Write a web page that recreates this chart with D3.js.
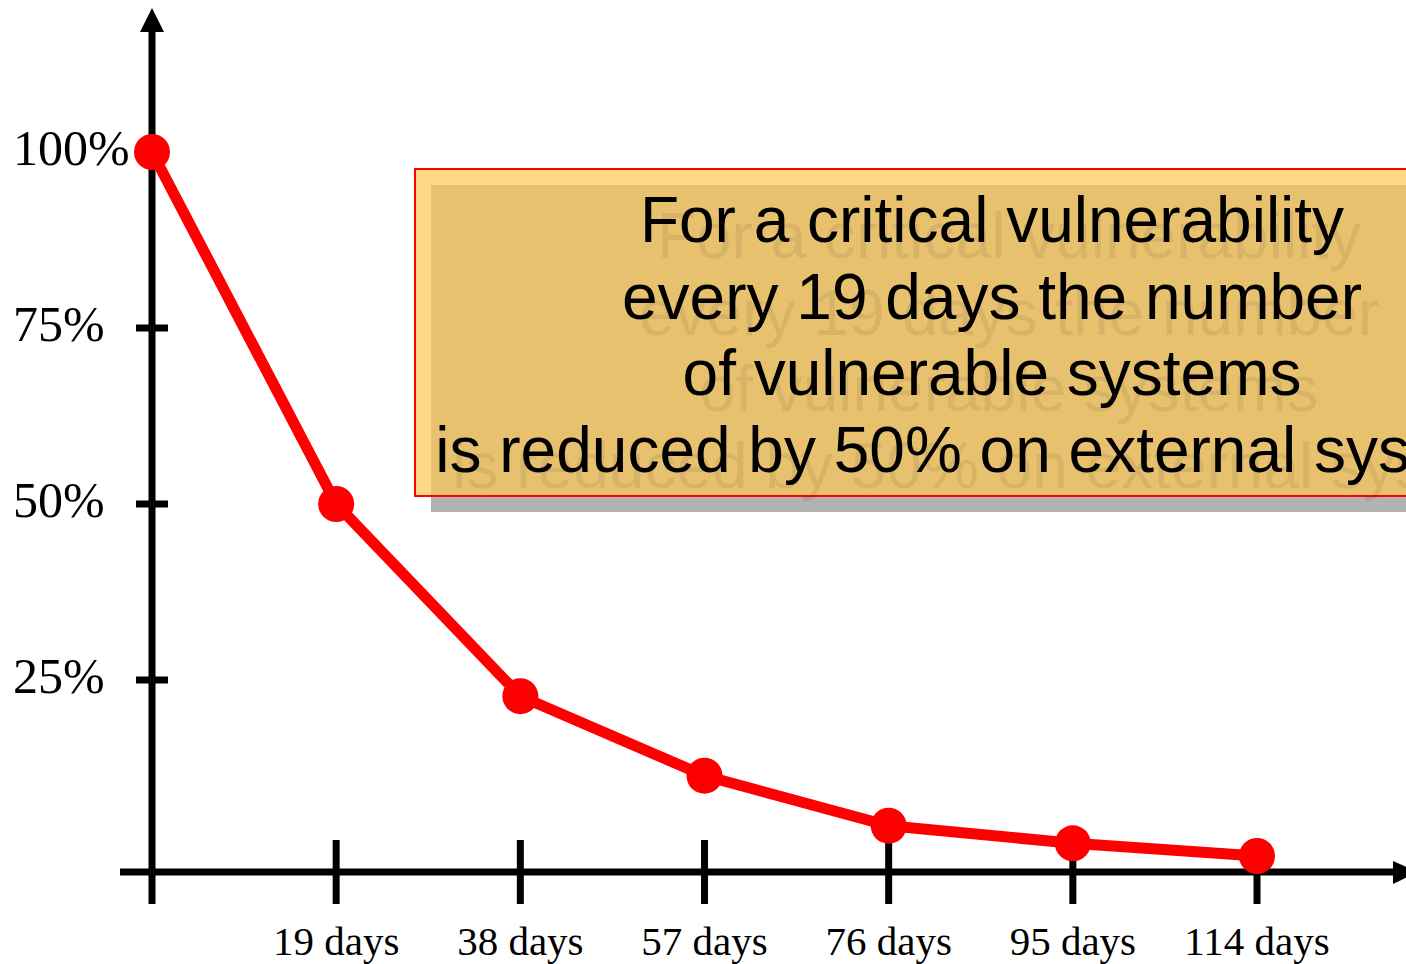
<!DOCTYPE html>
<html>
<head>
<meta charset="utf-8">
<script src="https://cdn.jsdelivr.net/npm/d3@7"></script>
<style>
  body { margin: 0; background: #fff; }
  svg { display: block; }
</style>
</head>
<body>
<svg id="chart" width="1406" height="964"></svg>
<script>
// data
var days = [0, 19, 38, 57, 76, 95, 114];
var share = [100, 50, 22.7, 11.4, 4.3, 1.8, 0];
var dayTicks = [19, 38, 57, 76, 95, 114];
var dayLabels = ['19 days', '38 days', '57 days', '76 days', '95 days', '114 days'];
var pctTicks = [25, 50, 75, 100];
var pctLabels = ['25%', '50%', '75%', '100%'];
var note = [
    'For a critical vulnerability',
    'every 19 days the number',
    'of vulnerable systems',
    'is reduced by 50% on external systems'
];

var svg = d3.select('#chart');

var x = d3.scaleLinear().domain([0, 114]).range([152, 1257]);
var y = d3.scaleLinear().domain([0, 100]).range([856, 152]);
var axisY = 872;
var serif = '"Liberation Serif", "Times New Roman", serif';
var sans = '"Liberation Sans", Arial, sans-serif';

// note box (drawn first, line goes over nothing here)
svg.append('rect')
    .attr('x', 431)
    .attr('y', 185)
    .attr('width', 1000)
    .attr('height', 327)
    .style('fill', '#b2b2b2');

svg.append('rect')
    .attr('x', 415)
    .attr('y', 169)
    .attr('width', 1000)
    .attr('height', 327)
    .style('fill', '#ffc753')
    .style('fill-opacity', 0.7)
    .style('stroke', '#ff0000')
    .style('stroke-width', 2);

// shadow text, then text
note.forEach(function(line, i) {
    svg.append('text')
        .attr('x', 992 + 17)
        .attr('y', 242 + i * 76.5 + 16)
        .attr('text-anchor', 'middle')
        .style('font-family', sans)
        .style('font-size', '64px')
        .style('fill', '#000')
        .style('fill-opacity', 0.07)
        .text(line);
});

note.forEach(function(line, i) {
    svg.append('text')
        .attr('x', 992)
        .attr('y', 242 + i * 76.5)
        .attr('text-anchor', 'middle')
        .style('font-family', sans)
        .style('font-size', '64px')
        .style('fill', '#000')
        .text(line);
});

// axes
svg.append('line')
    .attr('x1', x(0))
    .attr('x2', x(0))
    .attr('y1', 904)
    .attr('y2', 30)
    .style('stroke', '#000')
    .style('stroke-width', 7);

svg.append('path')
    .attr('d', 'M' + (x(0) - 12) + ',32 L' + x(0) + ',8 L' + (x(0) + 12) + ',32 Z')
    .style('fill', '#000');

svg.append('line')
    .attr('x1', 120)
    .attr('x2', 1395)
    .attr('y1', axisY)
    .attr('y2', axisY)
    .style('stroke', '#000')
    .style('stroke-width', 7);

svg.append('path')
    .attr('d', 'M1393,' + (axisY - 11) + ' L1418,' + axisY + ' L1393,' + (axisY + 12) + ' Z')
    .style('fill', '#000');

svg.selectAll('.xtick')
    .data(dayTicks)
    .enter().append('line')
    .attr('class', 'xtick')
    .attr('x1', function(d) { return x(d); })
    .attr('x2', function(d) { return x(d); })
    .attr('y1', axisY - 32)
    .attr('y2', axisY + 32)
    .style('stroke', '#000')
    .style('stroke-width', 7);

svg.selectAll('.xlabel')
    .data(dayTicks)
    .enter().append('text')
    .attr('class', 'xlabel')
    .attr('x', function(d) { return x(d); })
    .attr('y', 955)
    .attr('text-anchor', 'middle')
    .style('font-family', serif)
    .style('font-size', '41px')
    .style('fill', '#000')
    .text(function(d, i) { return dayLabels[i]; });

svg.selectAll('.ytick')
    .data(pctTicks)
    .enter().append('line')
    .attr('class', 'ytick')
    .attr('x1', x(0) - 16)
    .attr('x2', x(0) + 16)
    .attr('y1', function(d) { return y(d); })
    .attr('y2', function(d) { return y(d); })
    .style('stroke', '#000')
    .style('stroke-width', 7);

svg.selectAll('.ylabel')
    .data(pctTicks)
    .enter().append('text')
    .attr('class', 'ylabel')
    .attr('x', 13)
    .attr('y', function(d) { return y(d) + 13; })
    .style('font-family', serif)
    .style('font-size', '50px')
    .style('fill', '#000')
    .text(function(d, i) { return pctLabels[i]; });

// decay line
var pts = days.map(function(d, i) { return [d, share[i]]; });

svg.append('path')
    .datum(pts)
    .attr('d', d3.line()
        .x(function(d) { return x(d[0]); })
        .y(function(d) { return y(d[1]); }))
    .style('fill', 'none')
    .style('stroke', '#ff0000')
    .style('stroke-width', 11)
    .style('stroke-linejoin', 'round');

svg.selectAll('.dot')
    .data(pts)
    .enter().append('circle')
    .attr('class', 'dot')
    .attr('cx', function(d) { return x(d[0]); })
    .attr('cy', function(d) { return y(d[1]); })
    .attr('r', 18)
    .style('fill', '#ff0000');
</script>
</body>
</html>
